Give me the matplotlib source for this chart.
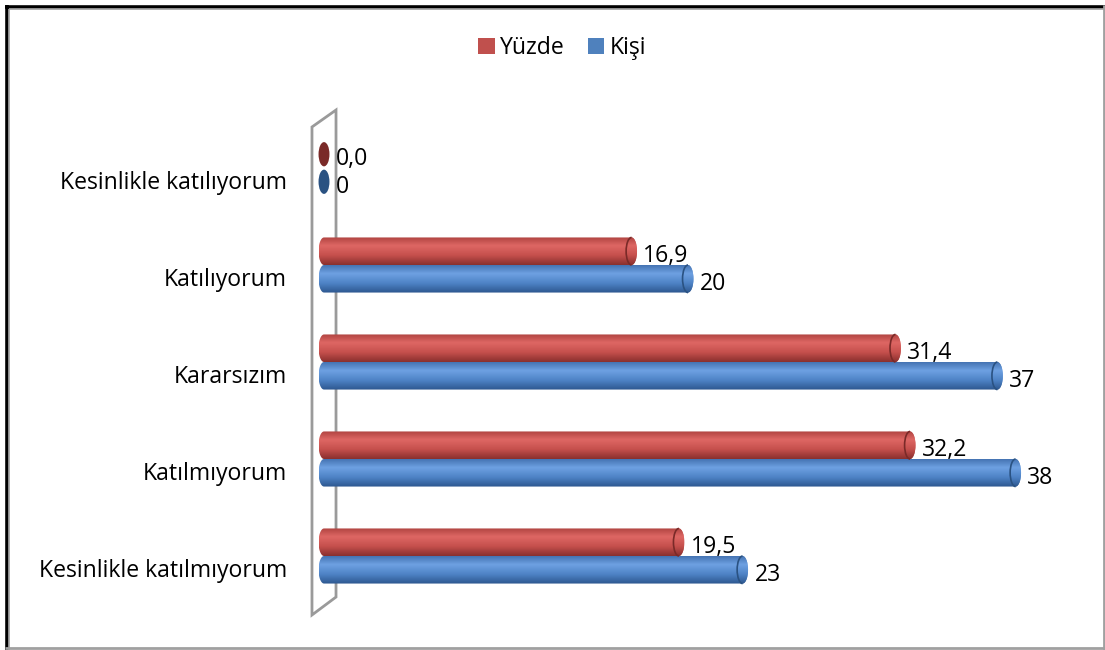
import numpy as np
import matplotlib.pyplot as plt
from matplotlib.colors import LinearSegmentedColormap
from matplotlib.patches import Ellipse, Patch, Polygon, Arc
from matplotlib.path import Path
from matplotlib.lines import Line2D
import matplotlib.transforms as mtransforms

plt.rcParams['font.family'] = ['Open Sans', 'DejaVu Sans']

categories = ["Kesinlikle katılıyorum", "Katılıyorum", "Kararsızım",
              "Katılmıyorum", "Kesinlikle katılmıyorum"]
yuzde = [0.0, 16.9, 31.4, 32.2, 19.5]
kisi = [0, 20, 37, 38, 23]
yuzde_labels = ["0,0", "16,9", "31,4", "32,2", "19,5"]
kisi_labels = ["0", "20", "37", "38", "23"]

red_cmap = LinearSegmentedColormap.from_list(
    "red", [(0, "#b04441"), (0.3, "#de6764"), (0.65, "#c6504d"), (1, "#8a302e")])
blue_cmap = LinearSegmentedColormap.from_list(
    "blue", [(0, "#4574b3"), (0.3, "#6ea1e2"), (0.65, "#4e83c6"), (1, "#2d578f")])

FS = 16.6

fig = plt.figure(figsize=(11.05, 6.5), dpi=100)
# x: value 0 at pixel 324, 18.2 px per unit; xlim starts at -1
ax = fig.add_axes([305.8 / 1105, 1 - 604.5 / 650, 782.6 / 1105, 485 / 650])

bh = 0.284   # bar thickness (category units)
rx = 0.3     # half width of the end cap ellipse (value units)
grad = np.linspace(0, 1, 64).reshape(-1, 1)


def cylinder(v, y0, cmap, dark):
    yc = y0 + bh / 2
    if v == 0:
        ax.add_patch(Ellipse((0, yc), 2 * rx, bh * 0.88, facecolor=dark,
                             edgecolor="none", zorder=3))
        return
    # body: half ellipse on the left, straight part, half ellipse on the right
    t1 = np.linspace(np.pi / 2, 3 * np.pi / 2, 30)
    t2 = np.linspace(-np.pi / 2, np.pi / 2, 30)
    left = np.column_stack([rx * np.cos(t1), yc - bh / 2 * np.sin(t1)])
    right = np.column_stack([v + rx * np.cos(t2), yc - bh / 2 * np.sin(t2)])
    verts = np.vstack([left, right, left[:1]])
    path = Path(verts)
    im = ax.imshow(grad, cmap=cmap, extent=[-rx, v + rx, y0 + bh, y0],
                   aspect="auto", zorder=3, interpolation="bilinear")
    im.set_clip_path(path, ax.transData)
    # end face
    face = Ellipse((v, yc), 2 * rx, bh)
    im2 = ax.imshow(grad, cmap=cmap, extent=[v - rx, v + rx, y0 + bh, y0],
                    aspect="auto", zorder=4, interpolation="bilinear", alpha=0.9)
    ax.add_patch(face)
    face.set_visible(False)
    im2.set_clip_path(face)
    ax.add_patch(Arc((v, yc), 2 * rx, bh, theta1=90, theta2=270,
                     color=dark, lw=1.2, zorder=5))


# back wall
wall = Polygon([(-0.66, -0.423), (0.66, -0.598), (0.66, 4.423), (-0.66, 4.608)],
               closed=True, facecolor="white", edgecolor="#9a9a9a", lw=2,
               zorder=1, clip_on=False)
ax.add_patch(wall)

for i in range(len(categories)):
    cylinder(yuzde[i], i - bh, red_cmap, "#7a2a28")
    cylinder(kisi[i], i, blue_cmap, "#2a5282")
    ax.text(yuzde[i] + 0.65, i - bh / 2 + 0.05, yuzde_labels[i], fontsize=FS,
            ha="left", va="center", zorder=6)
    ax.text(kisi[i] + 0.65, i + bh / 2 + 0.05, kisi_labels[i], fontsize=FS,
            ha="left", va="center", zorder=6)

ax.set_xlim(-1, 42)
ax.set_ylim(4.5, -0.5)
ax.set_xticks([])
ax.set_yticks(range(len(categories)), categories, fontsize=FS)
ax.tick_params(axis="y", length=0, pad=(324 - 287) * 0.72 - 0.72 * 18.2)
offset = mtransforms.ScaledTranslation(0, -0.12, fig.dpi_scale_trans)
for lab in ax.get_yticklabels():
    lab.set_transform(lab.get_transform() + offset)
for s in ax.spines.values():
    s.set_visible(False)
ax.patch.set_visible(False)

handles = [Patch(facecolor="#c0504d", label="Yüzde"),
           Patch(facecolor="#4f81bd", label="Kişi")]
fig.legend(handles=handles, loc="center", bbox_to_anchor=(0.509, 0.926), ncol=2,
           frameon=False, fontsize=FS, handlelength=0.7, handleheight=0.7,
           handletextpad=0.25, columnspacing=1.0)

# outer frame
W, H = 1105, 650
def fline(x0, y0, x1, y1, c, lw):
    fig.add_artist(Line2D([x0 / W, x1 / W], [1 - y0 / H, 1 - y1 / H],
                          transform=fig.transFigure, color=c, lw=lw,
                          solid_capstyle="butt"))

fline(5, 6.5, 1105, 6.5, "black", 2.6)
fline(6.5, 5, 6.5, 650, "black", 2.6)
fline(9, 9.2, 1105, 9.2, "#a0a0a0", 1.2)
fline(9.2, 9, 9.2, 650, "#a0a0a0", 1.2)
fline(5, 648, 1105, 648, "#a0a0a0", 2)
fline(1103.5, 5, 1103.5, 650, "#a0a0a0", 2)

plt.savefig("out.png", dpi=100)
